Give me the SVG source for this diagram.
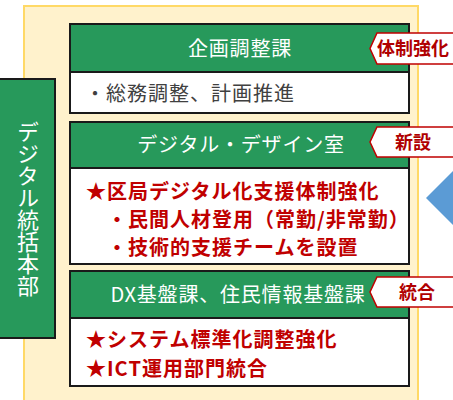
<svg xmlns="http://www.w3.org/2000/svg" width="453" height="400" viewBox="0 0 453 400">
<style>
.hdr{fill:#27995B;stroke:#1A1A1A;stroke-width:2}
.body{fill:#FFFFFF;stroke:#1A1A1A;stroke-width:2}
.ht{font-family:"Noto Sans CJK JP","Noto Sans",sans-serif;font-size:20px;fill:#FFFFFF;text-anchor:middle;letter-spacing:0.8px}
.gt{font-family:"Noto Sans CJK JP","Noto Sans",sans-serif;font-size:20px;fill:#404040;letter-spacing:1px}
.rt{font-family:"Noto Sans CJK JP","Noto Sans",sans-serif;font-size:20px;fill:#C00000;font-weight:bold;letter-spacing:1px}
.tag{fill:#FFFFFF;stroke:#C00000;stroke-width:1.5}
.tt{font-family:"Noto Sans CJK JP","Noto Sans",sans-serif;font-size:18px;fill:#B00000;font-weight:bold}
</style>
<rect x="24" y="6" width="394" height="400" fill="#FFF2CC" stroke="#FFD966" stroke-width="2"/>
<polygon points="426,198 460,164 460,232" fill="#5B9BD5"/>
<g id="hq">
<rect x="-2" y="79" width="57" height="259" class="hdr"/>
<text x="28" y="209" writing-mode="vertical-rl" font-family="Noto Sans CJK JP, sans-serif" font-size="22" fill="#FFFFFF" text-anchor="middle">デジタル統括本部</text>
</g>
<g id="kikaku">
<rect x="70" y="24" width="339" height="48" class="hdr"/>
<text x="240" y="56" class="ht">企画調整課</text>
<rect x="70" y="72" width="339" height="41" class="body"/>
<text x="85" y="101" class="gt">・総務調整、計画推進</text>
</g>
<g id="digital">
<rect x="70" y="122" width="339" height="46" class="hdr"/>
<text x="241" y="152" class="ht">デジタル・デザイン室</text>
<rect x="70" y="168" width="339" height="96" class="body"/>
<text x="86" y="199" class="rt">★区局デジタル化支援体制強化</text>
<text x="107" y="227" class="rt">・民間人材登用（常勤/非常勤）</text>
<text x="107" y="255" class="rt">・技術的支援チームを設置</text>
</g>
<g id="dx">
<rect x="70" y="271" width="339" height="47" class="hdr"/>
<text x="238" y="302" class="ht">DX基盤課、住民情報基盤課</text>
<rect x="70" y="318" width="339" height="68" class="body"/>
<text x="86" y="347" class="rt">★システム標準化調整強化</text>
<text x="86" y="376" class="rt">★ICT運用部門統合</text>
</g>
<g id="tag1">
<polygon points="377,33 460,33 460,64 377,64 370,48.5" class="tag"/>
<text x="377" y="55" class="tt">体制強化</text>
</g>
<g id="tag2">
<polygon points="377,127 460,127 460,157 377,157 370,142" class="tag"/>
<text x="395" y="149" class="tt">新設</text>
</g>
<g id="tag3">
<polygon points="377,277 460,277 460,307 377,307 370,292" class="tag"/>
<text x="399" y="299" class="tt">統合</text>
</g>
<g id="connectors"></g>
</svg>
